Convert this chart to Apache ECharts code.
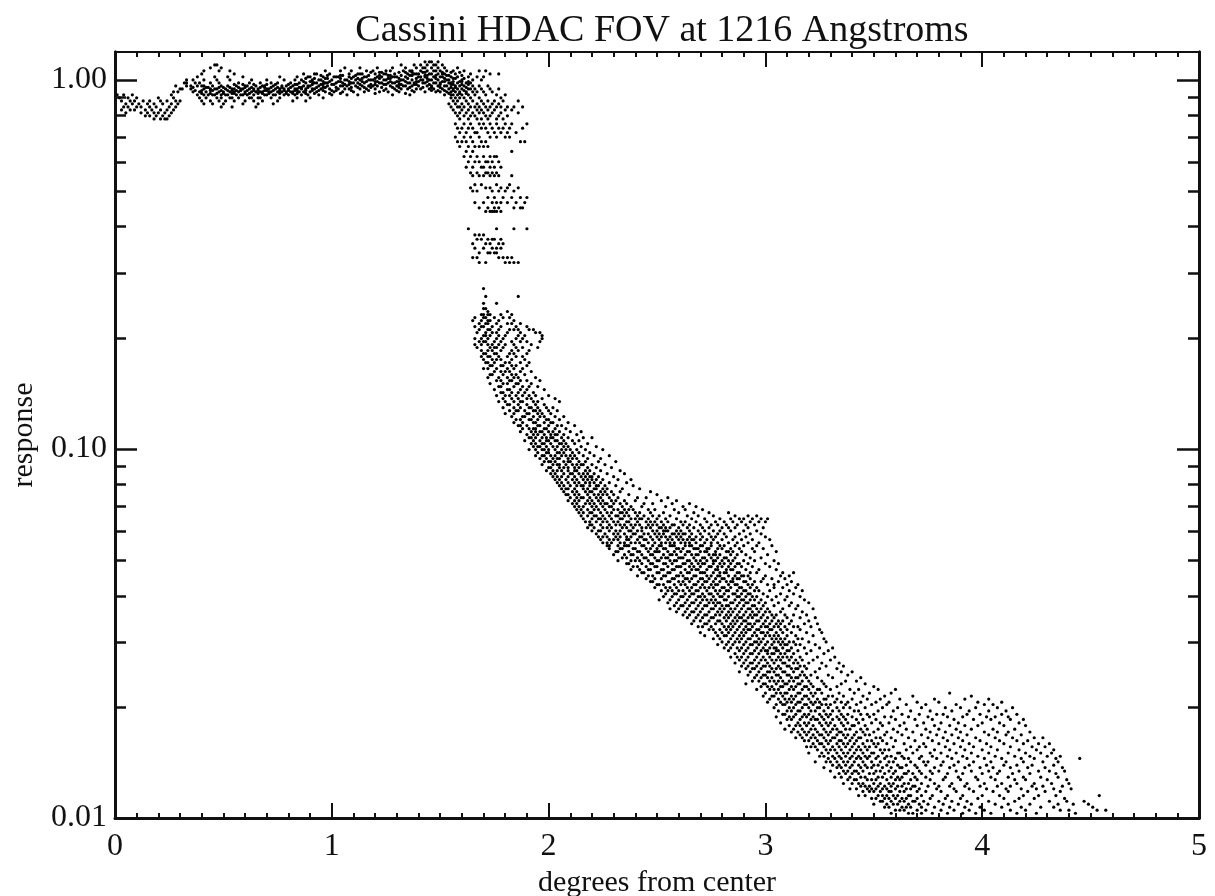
<!DOCTYPE html>
<html><head><meta charset="utf-8">
<style>html,body{margin:0;padding:0;background:#fff}#c{width:1215px;height:896px;filter:blur(0.55px)}</style>
<script src="https://cdn.jsdelivr.net/npm/echarts@6/dist/echarts.min.js"></script>
</head><body><div id="c"></div>
<script>
// Rows: first number = response x10000, the others = degrees from center x100.
const degreeUnit = 0.01, responseUnit = 0.0001;
const plateauRows = [
[11190,143,145,146,149],
[10980,46,47,132,138,141,144,147,148,151],
[10780,44,49,106,113,121,128,134,139,142,143,146,149,152,158],
[10580,41,48,53,97,104,109,116,119,125,127,133,136,137,141,144,147,148,150,153,156,161,168,171],
[10380,40,55,87,92,93,99,108,112,113,114,120,124,125,129,135,138,139,140,145,146,149,151,152,157,164,173,177],
[10190,38,46,52,59,76,84,89,90,96,101,102,103,108,110,115,116,121,123,128,129,130,134,140,141,143,147,150,151,155,158,163,167,170],
[10000,33,36,41,47,53,63,70,78,83,86,91,94,95,100,106,107,111,113,117,118,119,124,125,132,133,137,141,142,145,146,149,153,154,160,165,169],
[9810,32,33,37,39,44,48,57,62,67,72,75,81,85,88,92,93,97,98,102,105,109,110,112,115,122,123,126,128,129,135,136,138,142,143,147,148,150,154,155,158,162,164],
[9630,28,33,35,38,40,41,45,49,52,56,60,61,65,68,69,73,77,79,82,87,89,90,94,98,104,105,107,111,114,117,119,121,127,130,133,134,137,140,144,146,149,152,153,157,159,161,165,168,172],
[9450,30,31,35,41,44,46,47,51,54,55,58,59,62,64,66,70,71,74,76,78,80,83,84,86,88,91,92,95,99,103,106,108,113,116,120,125,129,132,135,139,141,145,147,151,154,156,158,160,163,164,166,169,173,177],
[9280,27,29,36,39,42,48,50,53,55,57,60,63,65,67,68,71,72,75,77,79,81,82,85,87,90,93,97,101,105,110,115,122,126,131,138,143,148,150,153,155,157,159,162,165,167,170,174],
[9110,1,4,8,26,38,41,43,45,46,49,51,52,56,58,59,61,64,69,70,73,74,78,80,83,86,89,94,100,107,112,128,136,152,155,156,158,160,163,166,171,176,180],
[8940,2,6,10,20,27,39,42,47,49,53,54,57,62,63,66,67,72,76,84,90,96,155,157,159,161,164,168,178],
[8770,3,7,9,13,16,21,24,28,30,40,44,48,51,55,60,64,68,75,82,88,156,158,162,165,169,172,175,179,186],
[8610,5,8,11,15,18,22,26,29,41,45,50,59,66,73,154,157,160,163,167,170,174,177],
[8450,4,6,10,12,16,19,25,28,49,54,65,155,158,159,161,164,166,168,171,173,176,178,181,184,188],
[8290,3,7,9,14,17,21,24,27,156,160,163,167,169,172,175,180,183],
[8140,5,12,15,18,20,23,26,157,159,162,165,168,170,174,178,186],
[7990,14,16,19,22,25,158,161,164,166,171,173,177,181],
[7840,18,21,23,24,159,163,167,169,172,176,179]
];
const plateauFill = [
[10480,118,122,123,131,134,137,142,143,151,155,159],
[10280,95,98,104,105,111,117,122,126,127,132,136,137,143,144,148,153,154,160],
[10090,88,92,97,98,104,109,112,114,120,122,126,127,131,135,139,144,148,152,156,157,161],
[9900,87,90,91,96,99,103,104,108,114,116,120,121,127,130,131,134,139,140,144,151,152,156,159,160,163],
[9720,55,59,64,70,74,80,83,84,91,95,96,100,101,106,108,113,118,120,124,125,131,132,138,139,145,150,155,156,160,163],
[9540,36,42,43,48,50,53,57,60,63,67,69,72,75,77,81,85,86,89,93,96,97,102,109,112,115,118,123,128,131,136,142,146,150,155,157,162],
[9360,37,40,44,45,49,52,54,56,58,61,64,66,69,70,73,76,78,80,83,84,88,91,94,96,100,102,109,117,124,130,137,146,149,152,156,161],
[9190,40,44,47,50,54,55,60,62,66,68,71,76,79,82,84,88,92,99,104,120,134,154,159,162]
];
const shoulderRows = [
[7600,157,161,164,168,170,173,176,180,183,190],
[7400,158,160,163,165,169,171,174,177,179,182,188],
[7200,159,162,166,167,172,175,178,181,185],
[7000,157,161,164,168,173,176,180,182],
[6800,158,160,162,165,169,171,187,189],
[6600,159,163,166,168,170,172],
[6400,162,165,183],
[6200,161,164,167,170,173,175,176],
[6000,163,166,168,171,172,174,177],
[5800,162,165,169,170,173,175,178],
[5600,164,167,171,172,174,176],
[5500,165,168,170,173,175,177,183],
[5200,166,169,176,182],
[5100,164,171,173,178,181,186],
[5000,165,167,174,177,180,184],
[4800,172,175,179,183,187,190],
[4650,166,170,174,176,178,181,185,189],
[4500,168,172,175,177,184,187,188],
[4400,171,173,174,175,176,178],
[3950,163,176,184,190],
[3800,166,168,170],
[3700,167,169,172,174,175,178],
[3600,165,171,173,177,179],
[3500,166,170,174,176,178],
[3400,168,172,173,175,176],
[3300,165,167,177,179,181,183],
[3200,168,171,180,182,184,186],
[2720,170],
[2590,171,186],
[2480,170,176],
[2401,170,171],
[2357,172,181],
[2313,169,170,172,173,178,183]
];
const kneeRows = [
[2270,166,170,171,175,179,182],
[2228,165,169,172,173,177,184],
[2187,168,171,172,176,181,183,187],
[2146,166,169,170,174,178,185,190],
[2106,168,172,173,177,182,184,186,191,193],
[2067,167,171,174,176,181,187,194,196],
[2029,170,171,173,177,180,186,189,197],
[1991,166,169,172,176,179,185,188,197],
[1954,168,170,171,175,178,183,187,190,196],
[1918,166,169,172,174,177,180,184,192],
[1883,167,173,175,176,179,185,188,195],
[1848,169,172,174,178,183,186,191],
[1813,170,171,175,176,182,184,190],
[1780,169,172,173,177,181,185,188],
[1747,170,174,176,178,183,189],
[1714,171,172,175,180,182,187,191],
[1682,173,174,178,179,183,185,190],
[1651,170,172,176,181,184,188],
[1621,175,178,180,182,187,192],
[1590,173,174,179,183,185,189],
[1561,172,177,181,184,186,194],
[1532,176,178,182,183,187,190,196],
[1504,173,179,181,185,186,192],
[1476,177,178,184,188,191,195],
[1448,175,181,182,187,190,198],
[1421,178,179,183,186,189,193],
[1395,176,180,182,185,188,191,194,200],
[1369,179,183,186,190,192,197,203],
[1344,177,180,184,187,188,193,195,205],
[1319,181,182,186,190,194,198],
[1294,179,184,187,191,192,195,199,202],
[1270,182,185,186,189,193,194,196,200,204],
[1247,180,184,190,191,195,197,201],
[1224,183,188,189,193,196,198,203,207],
[1201,185,187,191,192,195,199,200,205],
[1179,184,188,193,194,198,201,202,209],
[1157,186,187,190,195,196,200,204,206,212],
[1135,188,191,193,194,198,199,203,208],
[1114,187,192,194,196,197,200,202,205,210,215],
[1094,190,193,195,198,201,203,204,207,213],
[1073,191,192,194,197,199,201,202,206,209,216,220],
[1053,189,193,196,199,200,203,204,207,211,214],
[1034,192,194,197,198,201,205,206,208,212,218],
[1015,193,195,196,199,202,204,207,209,215,222],
[996,191,194,197,198,200,203,206,208,210,213,217,225],
[977,195,199,200,204,205,207,211,214,219],
[959,194,197,198,201,203,206,208,210,212,216,221,228],
[942,196,199,202,204,205,209,211,213,218,224],
[924,198,200,201,203,207,209,210,214,217,223,231],
[907,197,202,204,205,208,211,213,215,216,220,226],
[890,200,201,205,207,209,212,214,218,222,229],
[873,199,202,204,206,209,212,213,217,219,224,233],
[857,201,203,207,210,211,214,216,218,221,227,235],
[841,202,204,206,209,212,215,217,219,220,223,230],
[826,203,205,208,211,213,216,218,220,222,225,232,238],
[810,204,206,209,212,214,217,219,221,224,228,236]
];
const midRows = [
[795,205,207,210,213,215,216,219,222,223,226,231,239],
[780,206,208,209,212,216,218,221,222,225,227,234,242],
[766,207,211,213,217,219,220,224,226,229,233,247],
[752,208,209,212,214,218,221,223,225,227,230,237,250],
[738,210,213,215,216,219,222,224,228,232,241,245,255],
[724,209,212,214,218,220,223,225,229,231,235,240,252,259],
[711,211,213,217,219,221,224,226,227,230,233,236,244,248,257,265],
[698,212,214,216,220,222,225,228,229,234,238,243,254,262,268],
[685,213,215,218,221,223,226,230,232,235,237,239,246,249,258,263,271],
[672,214,216,219,220,224,227,229,233,234,236,240,242,247,253,260,267,274,283],
[659,215,218,221,222,225,228,231,232,235,237,241,244,248,251,256,264,269,276,286,292,296],
[647,216,220,223,224,226,229,233,234,238,240,242,243,246,250,254,259,266,272,279,284,288,290,294,298,301],
[635,217,219,222,225,227,230,232,236,237,241,245,247,249,252,255,261,263,268,273,277,281,285,289,293,297,300],
[623,219,220,224,228,231,233,235,238,240,242,246,248,250,253,257,258,262,265,270,275,278,282,287,291,295],
[612,218,221,225,227,229,234,236,239,243,245,247,251,252,254,256,260,264,267,271,274,280,283,286,292,299],
[600,220,223,224,228,231,233,237,238,241,243,248,250,253,254,255,259,261,265,269,272,276,279,284,290,296],
[589,222,226,230,232,235,239,240,244,246,249,251,253,257,258,260,262,263,266,270,274,278,281,288,293,298],
[578,223,225,227,231,233,236,238,242,243,247,250,252,254,256,259,261,265,268,271,275,277,282,286,291,300],
[568,224,228,230,232,236,237,241,244,245,248,251,255,257,260,262,264,266,267,270,273,276,280,285,289,294,302],
[557,225,227,229,233,235,238,240,242,246,249,252,254,256,258,261,263,265,268,272,275,278,283,287,292,297],
[547,227,228,232,235,236,237,243,244,248,251,252,256,257,258,263,265,266,270,271,275,279,281,286,290,296,303],
[537,228,233,234,239,240,245,247,250,253,254,259,260,262,267,268,269,273,274,278,280,284,288,294,299],
[527,231,232,237,241,242,246,249,250,251,255,258,261,264,265,270,272,273,277,282,283,285,289,295,305],
[517,230,235,238,239,243,247,248,253,256,257,259,263,266,268,269,274,276,277,279,284,287,291,301],
[507,234,236,241,244,245,249,252,254,255,260,261,262,267,271,272,275,278,281,282,286,293,298],
[498,232,238,240,242,246,250,251,256,258,259,264,265,268,270,273,276,277,280,283,285,290,295,304],
[489,236,237,243,247,248,253,254,257,262,263,266,269,271,272,276,279,281,284,287,288,292,300,306],
[480,239,241,245,249,250,255,259,260,261,265,267,270,274,275,278,280,283,286,289,294,302],
[471,238,242,246,247,252,253,257,258,263,266,268,269,273,277,278,282,284,285,291,297,305],
[462,243,244,250,251,255,256,261,264,265,270,271,272,276,279,281,282,287,288,293,296,308,313],
[453,241,246,248,253,254,259,260,262,267,268,273,275,278,279,283,286,289,290,292,300,307,311],
[445,245,249,252,257,258,263,264,266,270,271,274,277,280,281,285,287,288,293,299,303,309],
[437,247,248,255,256,260,262,265,269,272,273,276,279,282,284,285,290,291,295,298,306,312],
[429,250,251,253,258,261,263,267,268,271,275,277,278,283,286,287,292,294,301,304,310,315],
[421,249,254,256,259,264,266,270,272,274,276,280,281,284,288,289,293,296,304,308,314],
[413,252,255,257,260,262,265,268,269,273,277,279,282,283,287,290,291,295,297,302,311,317],
[405,254,258,259,263,266,267,271,274,275,278,281,285,286,289,292,293,299,307,313],
[398,253,257,261,262,265,269,270,272,276,279,280,283,287,288,291,294,296,301,305,310,316],
[390,251,256,260,264,268,271,273,275,277,281,282,286,289,290,293,295,298,303,309,318],
[383,255,259,263,266,267,270,274,276,278,279,284,285,288,291,292,297,300,306,312,320],
[376,258,261,262,265,269,272,273,277,280,282,283,287,290,294,295,299,304,311,315],
[369,256,260,264,268,271,275,276,279,281,284,286,289,292,293,296,298,301,308,314,322],
[362,259,263,266,267,270,274,278,280,283,285,288,291,294,297,300,302,307,317],
[355,262,265,269,272,273,277,279,282,284,287,290,293,295,296,299,303,305,309,313,319],
[349,264,268,271,275,276,281,283,286,288,289,292,294,298,301,304,310,316,323],
[342,267,270,274,278,279,282,285,287,290,291,296,297,300,303,306,308,312,320],
[336,266,272,273,277,280,284,286,289,292,293,295,299,302,305,307,311,318,324],
[330,269,271,275,281,283,285,288,291,294,298,300,301,304,306,309,313,315,321],
[324,274,276,279,282,284,287,290,292,293,296,297,302,303,307,310,316,325],
[318,270,277,280,283,286,289,291,295,298,299,301,305,308,312,319,326],
[312,272,278,281,282,285,288,290,294,296,300,302,304,306,310,314,322],
[306,276,279,284,287,289,292,293,297,299,303,305,307,309,315,317,327],
[300,280,283,286,288,291,295,296,298,301,304,306,308,311,313,320,328]
];
const lowerRows = [
[295,278,282,285,290,293,294,297,300,303,307,309,310,314,316,323],
[289,281,284,287,289,292,296,299,302,304,305,308,312,318,325,331],
[284,283,288,291,295,298,300,301,305,306,310,311,315,321,329],
[279,286,290,293,294,297,301,303,304,307,309,313,319,327],
[273,284,287,289,292,296,299,302,306,308,310,312,316,324,332],
[268,288,291,295,298,300,303,305,307,311,314,317,322,330],
[263,286,290,293,294,297,301,304,308,309,313,315,320,326,334],
[258,289,292,296,299,300,302,306,310,311,316,318,328,336],
[254,291,294,295,298,303,305,307,312,314,315,319,325,333],
[249,288,293,297,301,302,304,308,309,313,317,323,335,340],
[244,292,296,299,300,305,306,310,311,316,318,321,329,338],
[240,295,298,301,303,307,312,314,315,319,324,331,344],
[235,294,297,302,304,306,308,311,313,317,320,326,337,342],
[231,291,299,300,305,309,310,315,316,321,327,335,346],
[227,298,301,303,307,308,312,314,318,319,322,328,333,350],
[223,296,302,304,306,311,313,317,320,324,325,330,339,343,352,360],
[218,300,305,307,309,310,315,316,321,323,326,334,341,348,358,385],
[214,299,303,304,308,312,314,318,319,322,329,331,336,345,355,368,395],
[210,302,306,309,311,313,317,320,324,327,328,333,340,347,353,362,378,392,403],
[206,301,307,310,312,315,316,321,323,325,332,335,338,344,351,357,370,380,398,409],
[203,305,308,309,314,318,319,322,326,328,330,337,342,349,356,365,374,388,401,405],
[199,304,311,313,317,320,324,325,329,333,336,339,346,354,361,372,383,390,397,407,414],
[195,306,310,312,315,316,321,323,327,331,334,341,343,352,359,367,376,386,394,403,411],
[191,308,309,314,318,320,325,328,330,335,338,344,347,350,363,371,379,382,393,399,409,416],
[188,305,311,313,317,319,322,326,329,333,336,340,348,355,358,366,375,384,391,402,406,412],
[185,310,312,316,321,323,324,327,331,334,337,342,345,351,360,369,377,387,396,404,413,419],
[181,307,315,318,320,325,328,330,335,338,343,349,353,357,364,373,381,389,400,408,417],
[178,311,314,316,319,322,326,329,332,336,340,341,346,354,362,370,378,385,392,398,410,420],
[174,309,313,317,321,323,327,331,333,337,339,344,347,352,359,365,374,380,388,395,405,415],
[171,312,315,318,320,324,328,330,334,335,342,345,350,356,361,368,376,383,390,401,407,412,422],
[168,316,319,322,325,326,329,333,336,338,341,346,348,355,363,372,379,386,393,403,411,418],
[165,314,317,321,323,327,331,332,337,340,343,344,351,353,358,366,375,382,389,397,406,414,424,428],
[162,318,320,324,328,330,334,335,339,342,347,349,354,360,369,377,384,391,399,408,416,421],
[159,322,325,326,329,333,336,338,341,345,350,352,356,364,373,380,387,394,402,410,419,426,431],
[156,319,321,323,327,331,334,337,340,343,346,348,351,359,367,371,374,383,390,396,404,413,423,429],
[153,324,328,330,332,335,339,342,344,347,353,355,357,365,370,378,385,392,400,407,417,425,433],
[150,320,326,329,333,336,338,341,345,349,350,354,361,362,368,376,381,388,395,403,412,420,427,432],
[147,325,327,331,334,337,340,343,346,348,352,356,358,363,372,377,384,391,398,406,415,422,430,436],
[145,329,332,335,339,342,344,347,351,355,360,364,366,371,379,386,393,401,409,418,424,434,445],
[142,323,328,330,333,336,338,341,345,349,353,357,359,367,373,375,382,389,396,404,411,419,428,435],
[139,331,334,337,340,343,346,350,352,356,361,365,369,374,381,387,394,402,410,416,423,433],
[137,327,333,335,339,344,347,349,354,358,362,363,370,378,385,392,399,405,413,421,429,437],
[134,330,336,338,341,342,345,351,353,357,360,366,371,376,380,388,395,403,408,417,426,431,438],
[132,334,337,340,343,348,350,355,359,364,365,368,372,377,384,391,400,407,414,422,434],
[129,332,335,339,344,346,352,354,358,361,363,369,374,383,389,397,404,412,419,427,435],
[127,338,341,342,347,349,351,356,360,362,367,370,376,382,390,398,406,415,420,430,439],
[124,336,340,343,345,350,353,357,359,364,366,372,378,386,393,401,409,416,424,432,440],
[122,344,346,348,352,355,358,361,363,368,369,375,380,385,392,399,407,413,423,428,437],
[120,339,342,347,349,351,354,356,360,365,367,371,379,387,394,402,411,418,425,433,441],
[118,345,348,350,353,357,358,362,364,370,374,381,388,396,405,412,421,429,436],
[115,343,346,352,354,356,359,361,366,367,372,377,384,391,400,408,419,426,434,454],
[113,349,351,355,357,360,363,365,370,376,383,390,398,410,417,424,438],
[111,353,354,358,362,364,368,369,373,380,386,393,403,415,431,439,447],
[109,350,356,359,361,366,371,375,382,389,395,406,412,422,435,442,449],
[107,355,357,363,365,367,372,378,385,392,399,409,418,427,433,451],
[105,360,362,364,370,374,381,387,394,401,413,420,436,440,453,457],
[103,358,366,368,372,377,384,391,397,404,416,425,443]
];
const allRows = [plateauRows, plateauFill, shoulderRows, kneeRows, midRows, lowerRows];
const points = [];
allRows.forEach(function(group){group.forEach(function(row){for(let i=1;i<row.length;i++)points.push([row[i]*degreeUnit,row[0]*responseUnit]);});});

const chartTitle = 'Cassini HDAC FOV at 1216 Angstroms';
const xName = 'degrees from center';
const yName = 'response';
const yDecades = [0.01, 0.1, 1];
const yMinors = [.02,.03,.04,.05,.06,.07,.08,.09,.2,.3,.4,.5,.6,.7,.8,.9];
const yMin = 0.01, yMax = 1.19;
const font = '"Liberation Serif", serif';
const ink = '#111';

function xAx(pos, labels){
  return {type:'value',position:pos,min:0,max:5,interval:1,
    name:labels?xName:'',nameLocation:'middle',nameGap:44,
    nameTextStyle:{fontFamily:font,fontSize:30,color:ink},
    axisLine:{show:true,onZero:false,lineStyle:{color:ink,width:pos==='bottom'?3:2}},
    axisTick:{show:true,inside:true,length:15,lineStyle:{color:ink,width:2}},
    minorTick:{show:true,splitNumber:10,length:5,lineStyle:{color:ink,width:2}},
    splitLine:{show:false},minorSplitLine:{show:false},
    axisLabel:{show:labels,margin:13,fontFamily:font,fontSize:32,color:ink,
      showMinLabel:true,showMaxLabel:true}};
}
function yAx(pos, values, len, labels){
  return {type:'log',logBase:10,position:pos,min:yMin,max:yMax,
    name:labels?yName:'',nameLocation:'middle',nameGap:76,nameRotate:90,
    nameTextStyle:{fontFamily:font,fontSize:30,color:ink},
    axisLine:{show:true,onZero:false,lineStyle:{color:ink,width:3}},
    axisTick:{show:true,inside:true,length:len,customValues:values,lineStyle:{color:ink,width:2.5}},
    minorTick:{show:false},splitLine:{show:false},
    axisLabel:{show:labels,customValues:labels?values:undefined,margin:8,fontFamily:font,fontSize:32,color:ink,
      formatter:function(v){return Number(v).toFixed(2);}}};
}
const chart = echarts.init(document.getElementById('c'));
chart.setOption({
  animation:false,backgroundColor:'#fff',
  title:{text:chartTitle,left:657,textAlign:'center',top:7,textStyle:{fontFamily:font,fontSize:38,fontWeight:'normal',color:ink}},
  grid:{left:115,right:16,top:52,bottom:78,containLabel:false,outerBoundsMode:'none'},
  xAxis:[xAx('bottom',true),xAx('top',false)],
  yAxis:[yAx('left',yDecades,22,true),yAx('left',yMinors,11,false),yAx('right',yDecades,22,false),yAx('right',yMinors,11,false)],
  series:[{type:'scatter',xAxisIndex:0,yAxisIndex:0,data:points,symbol:'circle',symbolSize:3.2,silent:true,
    itemStyle:{color:'#000',opacity:1}}]
});
</script></body></html>
